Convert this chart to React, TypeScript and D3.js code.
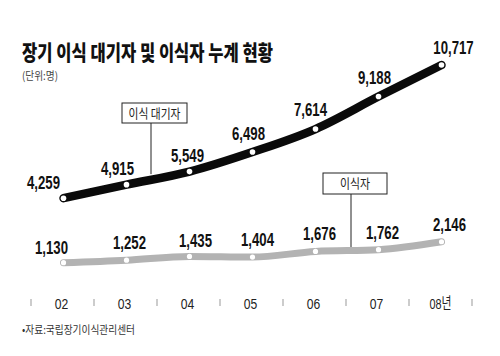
import React from "react";
import * as d3 from "d3";

const years = ["02", "03", "04", "05", "06", "07", "08"];
const yearLabels = ["02", "03", "04", "05", "06", "07", "08년"];
const waiting = [4259, 4915, 5549, 6498, 7614, 9188, 10717];
const transplanted = [1130, 1252, 1435, 1404, 1676, 1762, 2146];

const title = "장기 이식 대기자 및 이식자 누계 현황";
const unitText = "(단위:명)";
const sourceText = "•자료:국립장기이식관리센터";
const waitingName = "이식 대기자";
const transplantedName = "이식자";

const W = 500;
const H = 356;
const NUM_FONT = "'Liberation Sans', Arial, sans-serif";
const KR_FONT = "'Noto Sans CJK KR', 'Noto Sans', sans-serif";

const blackDx = [-20, -9, -2, -4, -5, -4, 12];
const blackDy = [-9, -10, -10, -12, -13, -13, -11];
const grayDx = [-12, 3, 6, 5, 4, 4, 8];
const grayDy = [-9, -11, -9, -11, -11, -11, -11];

const numWidth = (s: string) =>
  s.split("").reduce((a, c) => a + (c === "," ? 3.8 : 7.3), 0);

export default function App() {
  const x = d3.scaleBand<string>().domain(years).range([31, 472]).padding(0);
  const y = d3.scaleLinear().domain([0, 12000]).range([286, 38.6]);
  const cx = (i: number) => (x(years[i]) as number) + x.bandwidth() / 2 + 1;

  const line = d3
    .line<number>()
    .x((_, i) => cx(i))
    .y((d) => y(d))
    .curve(d3.curveMonotoneX);

  const tickXs = years
    .map((yr) => x(yr) as number)
    .concat([(x(years[years.length - 1]) as number) + x.bandwidth()]);

  const fmt = d3.format(",");

  const waitLineX = (cx(1) + cx(2)) / 2 - 7;
  const waitY = y((waiting[1] + waiting[2]) / 2) - 4;
  const transLineX = (cx(4) + cx(5)) / 2 + 4;
  const transY = y((transplanted[4] + transplanted[5]) / 2) + 1;

  return (
    <svg width={W} height={H} style={{ position: "absolute", left: 0, top: 0, background: "#fff" }}>
      <rect x={0} y={0} width={W} height={H} fill="#fff" />
      <text x={22} y={60} fontFamily={KR_FONT} fontWeight={900} fontSize={21} textLength={251} lengthAdjust="spacingAndGlyphs" fill="#111">
        {title}
      </text>
      <text x={22} y={80} fontFamily={KR_FONT} fontSize={11} textLength={36} lengthAdjust="spacingAndGlyphs" fill="#444">
        {unitText}
      </text>

      {/* annotation: waiting */}
      <line x1={waitLineX} x2={waitLineX} y1={123} y2={waitY} stroke="#222" strokeWidth={1} />
      <rect x={122} y={103} width={65} height={20} fill="#fff" stroke="#222" strokeWidth={1} />
      <text x={154.5} y={117.5} textAnchor="middle" fontFamily={KR_FONT} fontSize={13} textLength={52} lengthAdjust="spacingAndGlyphs" fill="#222">
        {waitingName}
      </text>

      {/* annotation: transplanted */}
      <line x1={transLineX} x2={transLineX} y1={194} y2={transY} stroke="#222" strokeWidth={1} />
      <rect x={323} y={173} width={64} height={21} fill="#fff" stroke="#222" strokeWidth={1} />
      <text x={355} y={188} textAnchor="middle" fontFamily={KR_FONT} fontSize={13} textLength={30} lengthAdjust="spacingAndGlyphs" fill="#222">
        {transplantedName}
      </text>

      {/* lines */}
      <path d={line(transplanted) || ""} fill="none" stroke="#b3b3b3" strokeWidth={7} strokeLinecap="round" strokeLinejoin="round" />
      <path d={line(waiting) || ""} fill="none" stroke="#0a0a0a" strokeWidth={8.5} strokeLinecap="round" strokeLinejoin="round" />

      {transplanted.map((v, i) => (
        <circle key={"g" + i} cx={cx(i)} cy={y(v)} r={2.6} fill="#fff" />
      ))}
      {waiting.map((v, i) => (
        <circle key={"b" + i} cx={cx(i)} cy={y(v)} r={2.8} fill="#fff" />
      ))}

      {waiting.map((v, i) => (
        <text key={"bl" + i} x={cx(i) + blackDx[i]} y={y(v) + blackDy[i]} textAnchor="middle" fontFamily={NUM_FONT} fontWeight={700} fontSize={17.5} textLength={numWidth(fmt(v))} lengthAdjust="spacingAndGlyphs" fill="#111">
          {fmt(v)}
        </text>
      ))}
      {transplanted.map((v, i) => (
        <text key={"gl" + i} x={cx(i) + grayDx[i]} y={y(v) + grayDy[i]} textAnchor="middle" fontFamily={NUM_FONT} fontWeight={700} fontSize={17.5} textLength={numWidth(fmt(v))} lengthAdjust="spacingAndGlyphs" fill="#111">
          {fmt(v)}
        </text>
      ))}

      {/* x axis */}
      {tickXs.map((tx, i) => (
        <line key={"t" + i} x1={tx} x2={tx} y1={299} y2={306} stroke="#999" strokeWidth={1} />
      ))}
      {years.map((yr, i) => {
        const last = i === years.length - 1;
        return (
          <text key={"xl" + i} x={(x(yr) as number) + x.bandwidth() / 2 + (last ? 0 : -1)} y={309} textAnchor="middle" fontFamily={last ? NUM_FONT + ", " + KR_FONT : NUM_FONT} fontSize={15.5} textLength={last ? 22 : 13.5} lengthAdjust="spacingAndGlyphs" fill="#222">
            {yearLabels[i]}
          </text>
        );
      })}

      <text x={22} y={334} fontFamily={KR_FONT} fontSize={11} textLength={113} lengthAdjust="spacingAndGlyphs" fill="#333">
        {sourceText}
      </text>
    </svg>
  );
}
